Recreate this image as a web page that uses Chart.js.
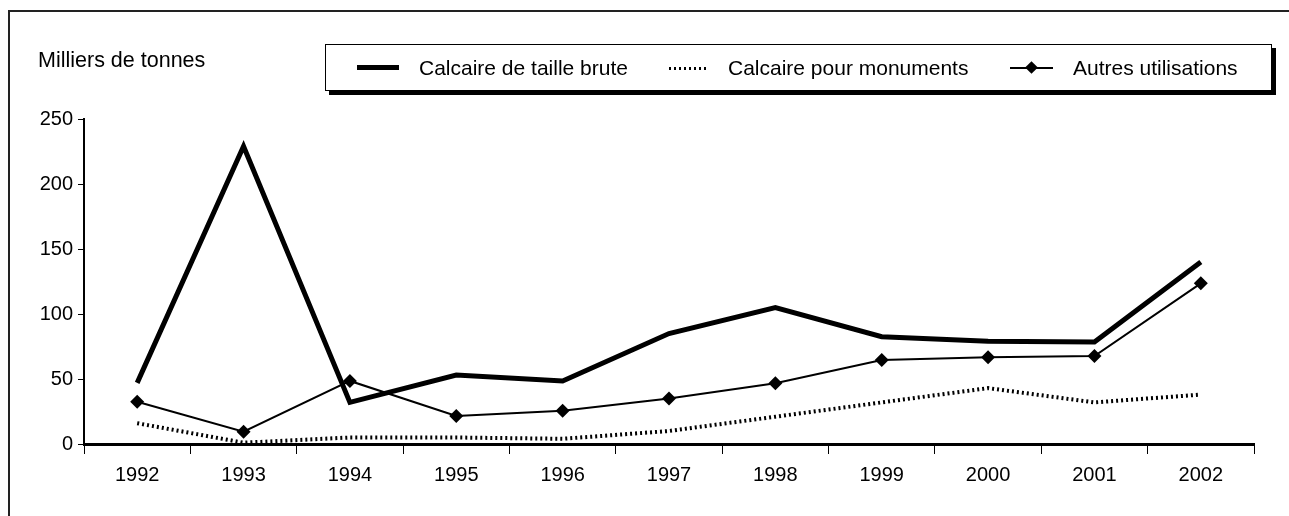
<!DOCTYPE html>
<html>
<head>
<meta charset="utf-8">
<script src="https://cdn.jsdelivr.net/npm/chart.js@4.4.1/dist/chart.umd.min.js"></script>
<style>
  html, body { margin: 0; padding: 0; background: #fff; overflow: hidden; }
  #wrap { position: relative; width: 1289px; height: 516px; font-family: "Liberation Sans", Arial, sans-serif; color: #000; }
  #frame { position: absolute; left: 8px; top: 10px; width: 1300px; height: 540px; border: 2px solid #222; }
  #StoneCha { position: absolute; left: 0; top: 0; }
  .Unit { position: absolute; left: 38px; top: 48px; font-size: 21.5px; line-height: 24px; }
  .Legend { position: absolute; left: 325px; top: 44px; width: 945px; height: 45px; border: 1.5px solid #000;
            box-shadow: 4px 4px 0 #000; background: #fff; font-size: 21px; }
  .Legend .item { position: absolute; top: 0; height: 45px; display: flex; align-items: center; white-space: nowrap; }
  .Legend .sym { position: relative; height: 14px; margin-right: 20px; }
  .sym .ln { position: absolute; left: 0; right: 0; top: 50%; background: #000; }
  .sym .dot { position: absolute; left: 0; right: 0; top: 50%; height: 3px; margin-top: -1px;
              background: repeating-linear-gradient(90deg, #000 0 2px, transparent 2px 5px); }
  .sym .dia { position: absolute; left: 50%; top: 50%; width: 9px; height: 9px; margin: -4.5px 0 0 -4.5px;
              background: #000; transform: rotate(45deg); }
</style>
</head>
<body>
<div id="wrap">
  <div id="frame"></div>
  <canvas id="StoneCha" width="1289" height="516"></canvas>
  <div class="Unit">Milliers de tonnes</div>
  <div class="Legend" id="Legend"></div>
</div>
<script>
const years = ['1992', '1993', '1994', '1995', '1996', '1997', '1998', '1999', '2000', '2001', '2002'];
const tailleBrute = [47, 229, 32, 53, 48.5, 85, 105, 82.5, 79, 78.5, 140];
const monuments = [16, 1, 5, 5, 4, 10, 21, 32, 43, 32, 38];
const autres = [32.5, 9.5, 48.5, 21.5, 25.6, 35, 46.7, 64.6, 66.7, 67.7, 123.6];
const yTicks = [0, 50, 100, 150, 200, 250];

const legendPos = [31, 343, 684];
const legendSym = [42, 39, 43];

Chart.defaults.font.family = '"Liberation Sans", Arial, sans-serif';
Chart.defaults.color = '#000';

const ctx = document.getElementById('StoneCha').getContext('2d');

const chartInstance = new Chart(ctx, {
    type: 'line',
    data: {
        labels: years,
        datasets: [{
            label: 'Calcaire de taille brute',
            data: tailleBrute,
            borderColor: '#000',
            backgroundColor: '#000',
            borderWidth: 5,
            pointRadius: 0,
            tension: 0,
            fill: false
        }, {
            label: 'Calcaire pour monuments',
            data: monuments,
            borderColor: '#000',
            backgroundColor: '#000',
            borderWidth: 4,
            borderDash: [2, 3],
            pointRadius: 0,
            tension: 0,
            fill: false
        }, {
            label: 'Autres utilisations',
            data: autres,
            borderColor: '#000',
            backgroundColor: '#000',
            borderWidth: 2,
            pointStyle: 'rectRot',
            pointRadius: 7,
            pointBorderWidth: 0,
            tension: 0,
            fill: false
        }]
    },
    options: {
        responsive: false,
        animation: false,
        layout: { padding: { top: 119, right: 35, left: 0, bottom: 0 } },
        scales: {
            x: {
                offset: true,
                afterFit: s => { s.height = 72; },
                ticks: { color: '#000', font: { size: 20 }, padding: 9, maxRotation: 0 },
                grid: {
                    offset: true,
                    drawOnChartArea: false,
                    tickLength: 10,
                    color: '#000',
                    lineWidth: 1
                },
                border: { color: '#000', width: 3 }
            },
            y: {
                min: 0,
                max: 250,
                afterFit: s => { s.width = 84; },
                afterBuildTicks: s => { s.ticks = yTicks.map(v => ({ value: v })); },
                ticks: { color: '#000', font: { size: 20 }, padding: 5 },
                grid: {
                    drawOnChartArea: false,
                    tickLength: 6,
                    color: '#000',
                    lineWidth: 1
                },
                border: { color: '#000', width: 2 }
            }
        },
        plugins: {
            legend: { display: false },
            tooltip: { enabled: false }
        }
    }
});

// legend box built from the dataset labels
const legendEl = document.getElementById('Legend');
chartInstance.data.datasets.forEach((ds, i) => {
    const item = document.createElement('div');
    item.className = 'item';
    item.style.left = legendPos[i] + 'px';
    const sym = document.createElement('span');
    sym.className = 'sym';
    sym.style.width = legendSym[i] + 'px';
    if (ds.borderDash) {
        sym.innerHTML = '<span class="dot"></span>';
    } else {
        const w = ds.borderWidth;
        sym.innerHTML = `<span class="ln" style="height:${w}px;margin-top:${-w / 2}px"></span>` +
            (ds.pointRadius > 0 ? '<span class="dia"></span>' : '');
    }
    const txt = document.createElement('span');
    txt.textContent = ds.label;
    item.appendChild(sym);
    item.appendChild(txt);
    legendEl.appendChild(item);
});
</script>
</body>
</html>
